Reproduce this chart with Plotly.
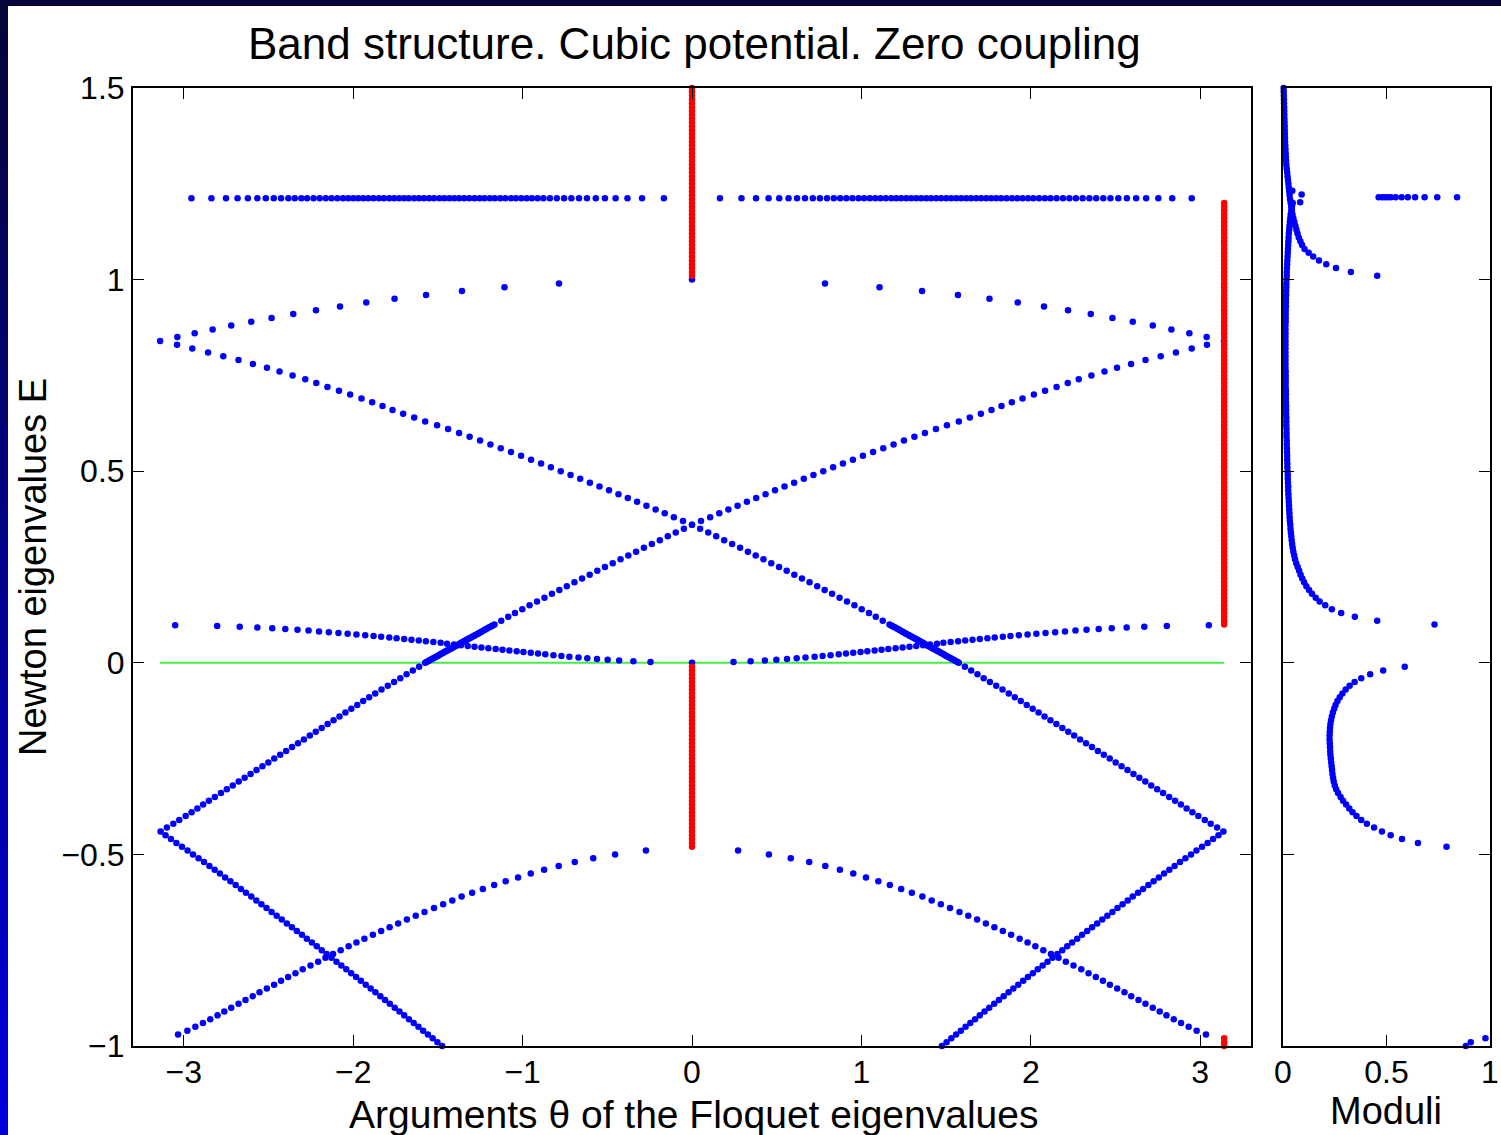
import plotly.graph_objects as go

# ---------------- data ----------------
# Newton eigenvalue grids E
E_A = [0.84, 0.83, 0.82, 0.81, 0.80, 0.79, 0.78, 0.77, 0.76, 0.75, 0.74, 0.73, 0.72, 0.71, 0.70,
       0.69, 0.68, 0.67, 0.66, 0.65, 0.64, 0.63, 0.62, 0.61, 0.60, 0.59, 0.58, 0.57, 0.56, 0.55,
       0.54, 0.53, 0.52, 0.51, 0.50, 0.49, 0.48, 0.47, 0.46, 0.45, 0.44, 0.43, 0.42, 0.41, 0.40,
       0.39, 0.38, 0.37, 0.36]
E_B = [0.35, 0.34, 0.33, 0.32, 0.31, 0.30, 0.29, 0.28, 0.27, 0.26, 0.25, 0.24, 0.23, 0.22, 0.21,
       0.20, 0.19, 0.18, 0.17, 0.16, 0.15, 0.14, 0.13, 0.12, 0.11, 0.10]
E_F = [0.098, 0.096, 0.094, 0.092, 0.090, 0.088, 0.086, 0.084, 0.082, 0.080, 0.078, 0.076, 0.074,
       0.072, 0.070, 0.068, 0.066, 0.064, 0.062, 0.060, 0.058, 0.056, 0.054, 0.052, 0.050, 0.048,
       0.046, 0.044, 0.042, 0.040, 0.038, 0.036, 0.034, 0.032, 0.030, 0.028, 0.026, 0.024, 0.022,
       0.020, 0.018, 0.016, 0.014, 0.012, 0.010, 0.008, 0.006, 0.004, 0.002]
E_0 = [0.0]
E_D = [-0.01, -0.02, -0.03, -0.04, -0.05, -0.06, -0.07, -0.08, -0.09, -0.10, -0.11, -0.12, -0.13,
       -0.14, -0.15, -0.16, -0.17, -0.18, -0.19, -0.20, -0.21, -0.22, -0.23, -0.24, -0.25, -0.26,
       -0.27, -0.28, -0.29, -0.30, -0.31, -0.32, -0.33, -0.34, -0.35, -0.36, -0.37, -0.38, -0.39,
       -0.40, -0.41, -0.42, -0.43, -0.44]
E_L1b = [-0.45, -0.46, -0.47, -0.48, -0.49, -0.50, -0.51, -0.52, -0.53, -0.54, -0.55, -0.56, -0.57,
         -0.58, -0.59, -0.60, -0.61, -0.62, -0.63, -0.64, -0.65, -0.66, -0.67, -0.68, -0.69, -0.70,
         -0.71, -0.72, -0.73, -0.74, -0.75, -0.76, -0.77, -0.78, -0.79, -0.80, -0.81, -0.82, -0.83,
         -0.84, -0.85, -0.86, -0.87, -0.88, -0.89, -0.90, -0.91, -0.92, -0.93, -0.94, -0.95, -0.96,
         -0.97, -0.98, -0.99, -1.00]
E_LA = [-0.49, -0.50, -0.51, -0.52, -0.53, -0.54, -0.55, -0.56, -0.57, -0.58, -0.59, -0.60, -0.61,
        -0.62, -0.63, -0.64, -0.65, -0.66, -0.67, -0.68, -0.69, -0.70, -0.71, -0.72, -0.73, -0.74,
        -0.75, -0.76, -0.77, -0.78, -0.79, -0.80, -0.81, -0.82, -0.83, -0.84, -0.85, -0.86, -0.87,
        -0.88, -0.89, -0.90, -0.91, -0.92, -0.93, -0.94, -0.95, -0.96, -0.97]
E_UA = [0.85, 0.86, 0.87, 0.88, 0.89, 0.90, 0.91, 0.92, 0.93, 0.94, 0.95, 0.96, 0.97, 0.98, 0.99]

# descending band line (theta from -pi at E=0.84 to +pi at E=-0.44)
th_L1_A = [-3.140, -3.040, -2.950, -2.857, -2.767, -2.677, -2.592, -2.509, -2.435, -2.358, -2.283,
           -2.218, -2.152, -2.084, -2.018, -1.951, -1.888, -1.827, -1.768, -1.705, -1.640, -1.575,
           -1.505, -1.440, -1.375, -1.313, -1.251, -1.190, -1.129, -1.069, -1.009, -0.950, -0.891,
           -0.833, -0.775, -0.717, -0.660, -0.603, -0.546, -0.490, -0.434, -0.379, -0.324, -0.269,
           -0.215, -0.161, -0.107, -0.053, 0.000]
th_L1_B = [0.048, 0.096, 0.143, 0.190, 0.237, 0.284, 0.330, 0.376, 0.422, 0.468, 0.514, 0.559, 0.604,
           0.649, 0.694, 0.739, 0.783, 0.827, 0.871, 0.915, 0.959, 1.002, 1.045, 1.085, 1.126, 1.166]
th_L1_F = [1.174, 1.182, 1.190, 1.199, 1.207, 1.215, 1.223, 1.231, 1.240, 1.248, 1.256, 1.264, 1.272,
           1.281, 1.289, 1.297, 1.305, 1.313, 1.322, 1.330, 1.338, 1.346, 1.354, 1.363, 1.371, 1.379,
           1.387, 1.395, 1.404, 1.412, 1.420, 1.428, 1.436, 1.445, 1.453, 1.461, 1.469, 1.477, 1.486,
           1.494, 1.502, 1.510, 1.518, 1.527, 1.535, 1.543, 1.551, 1.559, 1.567]
th_L1_0 = [1.575]
th_L1_D = [1.611, 1.648, 1.685, 1.722, 1.759, 1.796, 1.833, 1.870, 1.906, 1.941, 1.976, 2.011, 2.046,
           2.081, 2.116, 2.151, 2.186, 2.221, 2.256, 2.291, 2.326, 2.361, 2.396, 2.431, 2.466, 2.501,
           2.536, 2.571, 2.606, 2.641, 2.676, 2.711, 2.746, 2.781, 2.817, 2.852, 2.886, 2.920, 2.954,
           2.989, 3.027, 3.062, 3.100, 3.137]

# ascending band line (mirror image)
th_L2_A = [3.140, 3.040, 2.950, 2.857, 2.767, 2.677, 2.592, 2.509, 2.435, 2.358, 2.283,
           2.218, 2.152, 2.084, 2.018, 1.951, 1.888, 1.827, 1.768, 1.705, 1.640, 1.575,
           1.505, 1.440, 1.375, 1.313, 1.251, 1.190, 1.129, 1.069, 1.009, 0.950, 0.891,
           0.833, 0.775, 0.717, 0.660, 0.603, 0.546, 0.490, 0.434, 0.379, 0.324, 0.269,
           0.215, 0.161, 0.107, 0.053, 0.000]
th_L2_B = [-0.048, -0.096, -0.143, -0.190, -0.237, -0.284, -0.330, -0.376, -0.422, -0.468, -0.514,
           -0.559, -0.604, -0.649, -0.694, -0.739, -0.783, -0.827, -0.871, -0.915, -0.959, -1.002,
           -1.045, -1.085, -1.126, -1.166]
th_L2_F = [-1.174, -1.182, -1.190, -1.199, -1.207, -1.215, -1.223, -1.231, -1.240, -1.248, -1.256,
           -1.264, -1.272, -1.281, -1.289, -1.297, -1.305, -1.313, -1.322, -1.330, -1.338, -1.346,
           -1.354, -1.363, -1.371, -1.379, -1.387, -1.395, -1.404, -1.412, -1.420, -1.428, -1.436,
           -1.445, -1.453, -1.461, -1.469, -1.477, -1.486, -1.494, -1.502, -1.510, -1.518, -1.527,
           -1.535, -1.543, -1.551, -1.559, -1.567]
th_L2_0 = [-1.575]
th_L2_D = [-1.611, -1.648, -1.685, -1.722, -1.759, -1.796, -1.833, -1.870, -1.906, -1.941, -1.976,
           -2.011, -2.046, -2.081, -2.116, -2.151, -2.186, -2.221, -2.256, -2.291, -2.326, -2.361,
           -2.396, -2.431, -2.466, -2.501, -2.536, -2.571, -2.606, -2.641, -2.676, -2.711, -2.746,
           -2.781, -2.817, -2.852, -2.886, -2.920, -2.954, -2.989, -3.027, -3.062, -3.100, -3.137]

# lines continuing below E=-0.44 (folded)
th_L1b = [-3.108, -3.076, -3.044, -3.011, -2.978, -2.946, -2.913, -2.881, -2.849, -2.818, -2.787,
          -2.756, -2.725, -2.694, -2.663, -2.633, -2.602, -2.572, -2.542, -2.512, -2.482, -2.452,
          -2.422, -2.392, -2.362, -2.333, -2.303, -2.274, -2.244, -2.215, -2.186, -2.157, -2.128,
          -2.099, -2.070, -2.041, -2.012, -1.983, -1.955, -1.926, -1.897, -1.869, -1.840, -1.812,
          -1.784, -1.755, -1.727, -1.699, -1.671, -1.643, -1.615, -1.587, -1.559, -1.531, -1.503,
          -1.475]
th_L2b = [3.108, 3.076, 3.044, 3.011, 2.978, 2.946, 2.913, 2.881, 2.849, 2.818, 2.787,
          2.756, 2.725, 2.694, 2.663, 2.633, 2.602, 2.572, 2.542, 2.512, 2.482, 2.452,
          2.422, 2.392, 2.362, 2.333, 2.303, 2.274, 2.244, 2.215, 2.186, 2.157, 2.128,
          2.099, 2.070, 2.041, 2.012, 1.983, 1.955, 1.926, 1.897, 1.869, 1.840, 1.812,
          1.784, 1.755, 1.727, 1.699, 1.671, 1.643, 1.615, 1.587, 1.559, 1.531, 1.503,
          1.475]

# lower arches (E from -0.49 to -0.97)
th_LA_L = [-0.272, -0.454, -0.583, -0.692, -0.787, -0.873, -0.952, -1.027, -1.100, -1.168, -1.235,
           -1.298, -1.360, -1.415, -1.469, -1.523, -1.579, -1.631, -1.683, -1.735, -1.785, -1.835,
           -1.884, -1.934, -1.981, -2.027, -2.074, -2.119, -2.164, -2.207, -2.252, -2.298, -2.341,
           -2.384, -2.426, -2.467, -2.510, -2.553, -2.593, -2.636, -2.677, -2.720, -2.761, -2.801,
           -2.844, -2.887, -2.932, -2.979, -3.034]
th_LA_R = [0.272, 0.454, 0.583, 0.692, 0.787, 0.873, 0.952, 1.027, 1.100, 1.168, 1.235,
           1.298, 1.360, 1.415, 1.469, 1.523, 1.579, 1.631, 1.683, 1.735, 1.785, 1.835,
           1.884, 1.934, 1.981, 2.027, 2.074, 2.119, 2.164, 2.207, 2.252, 2.298, 2.341,
           2.384, 2.426, 2.467, 2.510, 2.553, 2.593, 2.636, 2.677, 2.720, 2.761, 2.801,
           2.844, 2.887, 2.932, 2.979, 3.034]

# upper arches (E from 0.85 to 0.99)
th_UA_L = [-3.038, -2.936, -2.830, -2.720, -2.602, -2.482, -2.354, -2.220, -2.078, -1.923, -1.756,
           -1.570, -1.358, -1.107, -0.785]
th_UA_R = [3.038, 2.936, 2.830, 2.720, 2.602, 2.482, 2.354, 2.220, 2.078, 1.923, 1.756,
           1.570, 1.358, 1.107, 0.785]

# flat arches near E=0 (fine grid E_F)
th_FA_L = [-3.051, -2.803, -2.670, -2.566, -2.478, -2.401, -2.329, -2.264, -2.202, -2.144, -2.087,
           -2.033, -1.981, -1.929, -1.880, -1.835, -1.787, -1.744, -1.699, -1.656, -1.613, -1.571,
           -1.527, -1.484, -1.446, -1.405, -1.364, -1.324, -1.284, -1.243, -1.202, -1.159, -1.119,
           -1.078, -1.035, -0.995, -0.952, -0.909, -0.866, -0.818, -0.771, -0.724, -0.670, -0.618,
           -0.561, -0.498, -0.430, -0.346, -0.245]
th_FA_R = [3.051, 2.803, 2.670, 2.566, 2.478, 2.401, 2.329, 2.264, 2.202, 2.144, 2.087,
           2.033, 1.981, 1.929, 1.880, 1.835, 1.787, 1.744, 1.699, 1.656, 1.613, 1.571,
           1.527, 1.484, 1.446, 1.405, 1.364, 1.324, 1.284, 1.243, 1.202, 1.159, 1.119,
           1.078, 1.035, 0.995, 0.952, 0.909, 0.866, 0.818, 0.771, 0.724, 0.670, 0.618,
           0.561, 0.498, 0.430, 0.346, 0.245]

# isolated blue points at theta = 0
th_single = [0.0, 0.0]
E_single = [1.0, 0.0]

# horizontal row of points at E ~ 1.212
E_row = 1.212
th_row_L = [-2.955, -2.837, -2.751, -2.683, -2.622, -2.566, -2.516, -2.469, -2.426, -2.383, -2.345,
            -2.306, -2.272, -2.234, -2.198, -2.162, -2.128, -2.094, -2.060, -2.029, -1.999, -1.970,
            -1.940, -1.911, -1.880, -1.848, -1.819, -1.787, -1.758, -1.729, -1.699, -1.672, -1.640,
            -1.611, -1.582, -1.552, -1.523, -1.491, -1.462, -1.432, -1.403, -1.374, -1.345, -1.315,
            -1.284, -1.254, -1.225, -1.193, -1.164, -1.132, -1.101, -1.069, -1.040, -1.008, -0.976,
            -0.945, -0.911, -0.877, -0.839, -0.798, -0.755, -0.712, -0.667, -0.620, -0.568, -0.514,
            -0.451, -0.381, -0.295, -0.166]
th_row_R = [0.165, 0.292, 0.378, 0.452, 0.515, 0.570, 0.620, 0.667, 0.713, 0.755, 0.797, 0.837,
            0.875, 0.911, 0.947, 0.983, 1.016, 1.050, 1.082, 1.113, 1.145, 1.177, 1.206, 1.235,
            1.265, 1.294, 1.324, 1.353, 1.383, 1.412, 1.442, 1.471, 1.501, 1.530, 1.560, 1.589,
            1.619, 1.648, 1.678, 1.707, 1.737, 1.766, 1.796, 1.825, 1.857, 1.889, 1.920, 1.952,
            1.984, 2.015, 2.049, 2.083, 2.116, 2.152, 2.190, 2.228, 2.266, 2.306, 2.346, 2.386,
            2.428, 2.470, 2.517, 2.567, 2.622, 2.681, 2.753, 2.835, 2.950]

# red (real Floquet multipliers): theta = 0 or theta = pi
th_red0 = 0.0
th_redpi = 3.1416
E_red0_top = [1.01, 1.02, 1.03, 1.04, 1.05, 1.06, 1.07, 1.08, 1.09, 1.10, 1.11, 1.12, 1.13, 1.14,
              1.15, 1.16, 1.17, 1.18, 1.19, 1.20, 1.21, 1.22, 1.23, 1.24, 1.25, 1.26, 1.27, 1.28,
              1.29, 1.30, 1.31, 1.32, 1.33, 1.34, 1.35, 1.36, 1.37, 1.38, 1.39, 1.40, 1.41, 1.42,
              1.43, 1.44, 1.45, 1.46, 1.47, 1.48, 1.49, 1.50]
E_red0_bot = [-0.01, -0.02, -0.03, -0.04, -0.05, -0.06, -0.07, -0.08, -0.09, -0.10, -0.11, -0.12,
              -0.13, -0.14, -0.15, -0.16, -0.17, -0.18, -0.19, -0.20, -0.21, -0.22, -0.23, -0.24,
              -0.25, -0.26, -0.27, -0.28, -0.29, -0.30, -0.31, -0.32, -0.33, -0.34, -0.35, -0.36,
              -0.37, -0.38, -0.39, -0.40, -0.41, -0.42, -0.43, -0.44, -0.45, -0.46, -0.47, -0.48]
E_redpi = [0.10, 0.11, 0.12, 0.13, 0.14, 0.15, 0.16, 0.17, 0.18, 0.19, 0.20, 0.21, 0.22, 0.23,
           0.24, 0.25, 0.26, 0.27, 0.28, 0.29, 0.30, 0.31, 0.32, 0.33, 0.34, 0.35, 0.36, 0.37,
           0.38, 0.39, 0.40, 0.41, 0.42, 0.43, 0.44, 0.45, 0.46, 0.47, 0.48, 0.49, 0.50, 0.51,
           0.52, 0.53, 0.54, 0.55, 0.56, 0.57, 0.58, 0.59, 0.60, 0.61, 0.62, 0.63, 0.64, 0.65,
           0.66, 0.67, 0.68, 0.69, 0.70, 0.71, 0.72, 0.73, 0.74, 0.75, 0.76, 0.77, 0.78, 0.79,
           0.80, 0.81, 0.82, 0.83, 0.84, 0.85, 0.86, 0.87, 0.88, 0.89, 0.90, 0.91, 0.92, 0.93,
           0.94, 0.95, 0.96, 0.97, 0.98, 0.99, 1.00, 1.01, 1.02, 1.03, 1.04, 1.05, 1.06, 1.07,
           1.08, 1.09, 1.10, 1.11, 1.12, 1.13, 1.14, 1.15, 1.16, 1.17, 1.18, 1.19, 1.20]
E_redpi_bot = [-0.98, -0.99, -1.00]

# moduli of the real multipliers (right panel)
mod_red0_top = [0.455, 0.328, 0.256, 0.209, 0.174, 0.146, 0.124, 0.104, 0.092, 0.084,
                0.076, 0.070, 0.065, 0.060, 0.055, 0.050, 0.046, 0.043, 0.040, 0.037,
                0.034, 0.032, 0.030, 0.028, 0.026, 0.024, 0.022, 0.020, 0.018, 0.016,
                0.015, 0.014, 0.013, 0.012, 0.011, 0.010, 0.0095, 0.009, 0.0085, 0.008,
                0.0075, 0.007, 0.0065, 0.006, 0.0055, 0.005, 0.0045, 0.004, 0.0035, 0.003]
mod_red0_bot = [0.588, 0.484, 0.421, 0.378, 0.346, 0.322, 0.303, 0.287, 0.274, 0.263,
                0.254, 0.247, 0.241, 0.236, 0.232, 0.229, 0.227, 0.226, 0.225, 0.225,
                0.226, 0.227, 0.228, 0.229, 0.231, 0.233, 0.235, 0.237, 0.239, 0.242,
                0.245, 0.250, 0.257, 0.266, 0.278, 0.290, 0.305, 0.320, 0.336, 0.355,
                0.378, 0.405, 0.440, 0.478, 0.520, 0.575, 0.652, 0.790]
mod_redpi = [0.732, 0.455, 0.347, 0.281, 0.236, 0.204, 0.177, 0.158, 0.140, 0.126,
             0.113, 0.102, 0.093, 0.085, 0.078, 0.071, 0.064, 0.058, 0.054, 0.050,
             0.047, 0.044, 0.042, 0.040, 0.038, 0.036, 0.035, 0.033, 0.032, 0.031,
             0.030, 0.029, 0.028, 0.027, 0.026, 0.025, 0.025, 0.024, 0.023, 0.023,
             0.022, 0.021, 0.021, 0.020, 0.020, 0.019, 0.019, 0.018, 0.018, 0.017,
             0.017, 0.017, 0.016, 0.016, 0.016, 0.015, 0.015, 0.015, 0.014, 0.014,
             0.014, 0.014, 0.013, 0.013, 0.013, 0.013, 0.013, 0.012, 0.012, 0.012,
             0.012, 0.012, 0.012, 0.012, 0.012, 0.012, 0.012, 0.012, 0.012, 0.013,
             0.013, 0.013, 0.013, 0.014, 0.014, 0.014, 0.015, 0.015, 0.016, 0.016,
             0.017, 0.018, 0.018, 0.019, 0.020, 0.021, 0.022, 0.023, 0.024, 0.025,
             0.026, 0.027, 0.028, 0.030, 0.031, 0.033, 0.035, 0.037, 0.040, 0.043,
             0.047]
mod_redpi_bot = [0.978, 0.907, 0.883]
mod_row = [0.462, 0.479, 0.492, 0.505, 0.521, 0.544, 0.573, 0.603, 0.638, 0.684, 0.745, 0.841]
E_mod_row = 1.215
mod_extra = [0.045, 0.090, 0.083, 0.043]
E_mod_extra = [1.232, 1.222, 1.202, 1.193]

# zero-energy reference line
green_x = [-3.1416, 3.1416]
green_y = [0.0, 0.0]

# axis ticks
x_ticks = [-3, -2, -1, 0, 1, 2, 3]
x_ticktext = ["\u22123", "\u22122", "\u22121", "0", "1", "2", "3"]
y_ticks = [-1, -0.5, 0, 0.5, 1, 1.5]
y_ticktext = ["\u22121", "\u22120.5", "0", "0.5", "1", "1.5"]
m_ticks = [0, 0.5, 1]
m_ticktext = ["0", "0.5", "1"]

# ---------------- figure ----------------
W, H = 1501, 1135
FONT = "Liberation Sans, Arial, Helvetica, sans-serif"
BLUE = "#0000ff"
RED = "#ff0000"
MS = 6.5

E_L1 = E_A + E_B + E_F + E_0 + E_D
th_L1 = th_L1_A + th_L1_B + th_L1_F + th_L1_0 + th_L1_D
th_L2 = th_L2_A + th_L2_B + th_L2_F + th_L2_0 + th_L2_D

blue_x = (th_L1 + th_L2 + th_L1b + th_L2b + th_LA_L + th_LA_R + th_UA_L + th_UA_R
          + th_FA_L + th_FA_R + th_single + th_row_L + th_row_R)
blue_y = (E_L1 + E_L1 + E_L1b + E_L1b + E_LA + E_LA + E_UA + E_UA + E_F + E_F + E_single
          + [E_row] * len(th_row_L) + [E_row] * len(th_row_R))

red_y = E_red0_top + E_red0_bot + E_redpi + E_redpi_bot
red_x = ([th_red0] * len(E_red0_top) + [th_red0] * len(E_red0_bot)
         + [th_redpi] * len(E_redpi) + [th_redpi] * len(E_redpi_bot))

mod_x = mod_red0_top + mod_red0_bot + mod_redpi + mod_redpi_bot + mod_row + mod_extra
mod_y = (E_red0_top + E_red0_bot + E_redpi + E_redpi_bot + [E_mod_row] * len(mod_row)
         + E_mod_extra)

fig = go.Figure()
fig.add_trace(go.Scatter(x=green_x, y=green_y, mode="lines",
                         line=dict(color="#44ee44", width=2),
                         xaxis="x", yaxis="y", hoverinfo="skip", showlegend=False))
fig.add_trace(go.Scatter(x=blue_x, y=blue_y, mode="markers",
                         marker=dict(color=BLUE, size=MS, line=dict(width=0)),
                         xaxis="x", yaxis="y", cliponaxis=False, showlegend=False))
fig.add_trace(go.Scatter(x=red_x, y=red_y, mode="markers",
                         marker=dict(color=RED, size=MS, line=dict(width=0)),
                         xaxis="x", yaxis="y", cliponaxis=False, showlegend=False))
fig.add_trace(go.Scatter(x=mod_x, y=mod_y, mode="markers",
                         marker=dict(color=BLUE, size=MS, line=dict(width=0)),
                         xaxis="x2", yaxis="y2", cliponaxis=False, showlegend=False))

def px_x(p):
    return p / W

def px_y(p):
    return 1 - p / H

axis_common = dict(showline=True, linecolor="black", linewidth=2, mirror="ticks",
                   ticks="inside", ticklen=11, tickwidth=1, tickcolor="black",
                   showgrid=False, zeroline=False, automargin=False,
                   tickfont=dict(family=FONT, size=32, color="black"))

y_dom = [px_y(1046), px_y(88)]
fig.update_layout(
    template="none",
    width=W, height=H, autosize=False,
    margin=dict(l=0, r=0, t=0, b=0, pad=0),
    paper_bgcolor="white", plot_bgcolor="white",
    xaxis=dict(domain=[px_x(133), px_x(1251)], range=[-3.3, 3.3], anchor="y",
               tickvals=x_ticks, ticktext=x_ticktext, ticklabelstandoff=-3, **axis_common),
    yaxis=dict(domain=y_dom, range=[-1, 1.5], anchor="x",
               tickvals=y_ticks, ticktext=y_ticktext, ticklabelstandoff=0, **axis_common),
    xaxis2=dict(domain=[px_x(1283), px_x(1490)], range=[0, 1], anchor="y2",
                tickvals=m_ticks, ticktext=m_ticktext, ticklabelstandoff=-3, **axis_common),
    yaxis2=dict(domain=y_dom, range=[-1, 1.5], anchor="x2",
                tickvals=y_ticks, showticklabels=False, **axis_common),
)

annotations = [
    dict(text="Band structure. Cubic potential. Zero coupling", x=px_x(694), y=px_y(44),
         font=dict(family=FONT, size=44, color="black")),
    dict(text="Arguments \u03b8 of the Floquet eigenvalues", x=px_x(693), y=px_y(1114),
         font=dict(family=FONT, size=39, color="black")),
    dict(text="Moduli", x=px_x(1386), y=px_y(1111),
         font=dict(family=FONT, size=38, color="black")),
    dict(text="Newton eigenvalues E", x=px_x(33), y=px_y(567), textangle=-90,
         font=dict(family=FONT, size=38, color="black")),
]
for a in annotations:
    a.update(xref="paper", yref="paper", showarrow=False, xanchor="center", yanchor="middle")
fig.update_layout(annotations=annotations)

# slide background showing at the top and left edges
shapes = [dict(type="rect", xref="paper", yref="paper", x0=0, x1=1, y0=px_y(6), y1=1,
               fillcolor="#05053a", line=dict(width=0), layer="above")]
n_band = 40
for i in range(n_band):
    t = i / (n_band - 1)
    r, g, b = int(6 * (1 - t)), int(6 * (1 - t)), int(58 + (222 - 58) * t)
    top_px = H * i / n_band
    bot_px = min(H, H * (i + 1) / n_band + 2)
    shapes.append(dict(type="rect", xref="paper", yref="paper", x0=0, x1=px_x(8),
                       y0=px_y(bot_px), y1=px_y(top_px),
                       fillcolor=f"rgb({r},{g},{b})", line=dict(width=0), layer="above"))
fig.update_layout(shapes=shapes)

fig.write_html("out.html", config={"displayModeBar": False},
               post_script="document.body.style.margin='0px';document.body.style.overflow='hidden';")
